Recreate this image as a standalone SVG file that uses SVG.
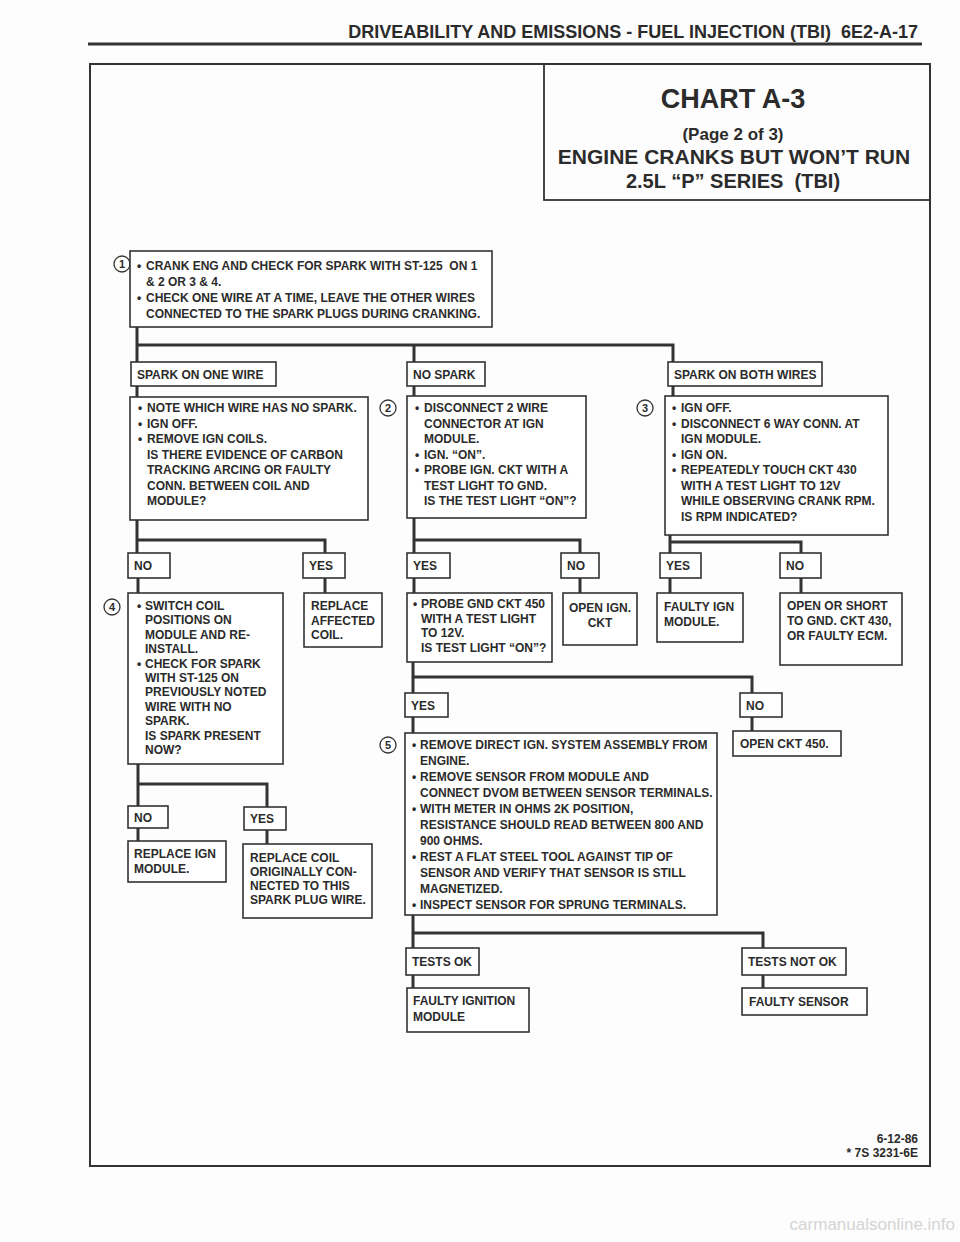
<svg xmlns="http://www.w3.org/2000/svg" width="960" height="1242" viewBox="0 0 960 1242">
<style>
.t{font-family:"Liberation Sans",Arial,sans-serif;font-weight:bold;font-size:12px;fill:#2b2b2b;white-space:pre}
.box{fill:#fff;stroke:#333;stroke-width:1.6}
.conn{stroke:#333;stroke-width:3;fill:none}
.num circle{fill:#fff;stroke:#333;stroke-width:1.3}
.num text{font-family:"Liberation Sans",Arial,sans-serif;font-weight:bold;font-size:11px;fill:#2b2b2b;text-anchor:middle}
.c{text-anchor:middle}
</style>
<rect x="0" y="0" width="960" height="1242" fill="#fdfdfd"/>
<g id="header">
<text class="t" x="918" y="38" style="font-size:18px" text-anchor="end">DRIVEABILITY AND EMISSIONS - FUEL INJECTION (TBI)  6E2-A-17</text>
<line x1="88" y1="44" x2="922" y2="44" stroke="#333" stroke-width="3"/>
</g>
<rect id="frame" x="90" y="64" width="840" height="1102" fill="none" stroke="#333" stroke-width="2"/>
<g id="title">
<rect x="544" y="64" width="386" height="136" fill="none" stroke="#333" stroke-width="1.8"/>
<text class="t c" x="733" y="108" style="font-size:27px">CHART A-3</text>
<text class="t c" x="733" y="140" style="font-size:17px">(Page 2 of 3)</text>
<text class="t c" x="734" y="164" style="font-size:21px">ENGINE CRANKS BUT WON’T RUN</text>
<text class="t c" x="733" y="188" style="font-size:20px">2.5L “P” SERIES  (TBI)</text>
</g>
<g id="connectors">
<path class="conn" d="M137 327V362M137 345H673V362M414 345V362"/>
<path class="conn" d="M137 386V397M414 386V396M673 386V396"/>
<path class="conn" d="M137 520V553M137 540H325V553"/>
<path class="conn" d="M414 518V553M414 540H580V553"/>
<path class="conn" d="M670 535V553M670 542H801V553"/>
<path class="conn" d="M138 578V593M325 578V593M414 578V593M580 578V593M670 578V593M801 578V593"/>
<path class="conn" d="M413 662V693M413 677H752V693"/>
<path class="conn" d="M413 717V733M752 717V731"/>
<path class="conn" d="M138 764V806M138 784H267V807M138 828V841M267 830V844"/>
<path class="conn" d="M413 915V948M413 933H763V948M413 975V988M763 975V988"/>
</g>
<g id="n1">
<g class="num"><circle cx="122" cy="264" r="8"/><text x="122" y="268">1</text></g>
<rect class="box" x="130" y="251" width="362" height="76"/>
<text class="t"><tspan x="137" y="270">•</tspan><tspan x="146" y="270">CRANK ENG AND CHECK FOR SPARK WITH ST-125  ON 1</tspan><tspan x="146" y="286">&amp; 2 OR 3 &amp; 4.</tspan><tspan x="137" y="302">•</tspan><tspan x="146" y="302">CHECK ONE WIRE AT A TIME, LEAVE THE OTHER WIRES</tspan><tspan x="146" y="318">CONNECTED TO THE SPARK PLUGS DURING CRANKING.</tspan></text>
</g>
<g id="l_spark_one"><rect class="box" x="131" y="362" width="145" height="24"/><text class="t" x="137" y="379">SPARK ON ONE WIRE</text></g>
<g id="l_no_spark"><rect class="box" x="407" y="362" width="78" height="24"/><text class="t" x="413" y="379">NO SPARK</text></g>
<g id="l_spark_both"><rect class="box" x="668" y="362" width="154" height="24"/><text class="t" x="674" y="379">SPARK ON BOTH WIRES</text></g>
<g id="n_note">
<rect class="box" x="130" y="397" width="238" height="123"/>
<text class="t"><tspan x="138" y="412">•</tspan><tspan x="147" y="412">NOTE WHICH WIRE HAS NO SPARK.</tspan><tspan x="138" y="427.5">•</tspan><tspan x="147" y="427.5">IGN OFF.</tspan><tspan x="138" y="443">•</tspan><tspan x="147" y="443">REMOVE IGN COILS.</tspan><tspan x="147" y="458.5">IS THERE EVIDENCE OF CARBON</tspan><tspan x="147" y="474">TRACKING ARCING OR FAULTY</tspan><tspan x="147" y="489.5">CONN. BETWEEN COIL AND</tspan><tspan x="147" y="505">MODULE?</tspan></text>
</g>
<g id="n2">
<g class="num"><circle cx="388" cy="408" r="8"/><text x="388" y="412">2</text></g>
<rect class="box" x="407" y="396" width="179" height="122"/>
<text class="t"><tspan x="415" y="412">•</tspan><tspan x="424" y="412">DISCONNECT 2 WIRE</tspan><tspan x="424" y="427.5">CONNECTOR AT IGN</tspan><tspan x="424" y="443">MODULE.</tspan><tspan x="415" y="458.5">•</tspan><tspan x="424" y="458.5">IGN. “ON”.</tspan><tspan x="415" y="474">•</tspan><tspan x="424" y="474">PROBE IGN. CKT WITH A</tspan><tspan x="424" y="489.5">TEST LIGHT TO GND.</tspan><tspan x="424" y="505">IS THE TEST LIGHT “ON”?</tspan></text>
</g>
<g id="n3">
<g class="num"><circle cx="645" cy="408" r="8"/><text x="645" y="412">3</text></g>
<rect class="box" x="665" y="396" width="223" height="139"/>
<text class="t"><tspan x="672" y="412">•</tspan><tspan x="681" y="412">IGN OFF.</tspan><tspan x="672" y="427.5">•</tspan><tspan x="681" y="427.5">DISCONNECT 6 WAY CONN. AT</tspan><tspan x="681" y="443">IGN MODULE.</tspan><tspan x="672" y="458.5">•</tspan><tspan x="681" y="458.5">IGN ON.</tspan><tspan x="672" y="474">•</tspan><tspan x="681" y="474">REPEATEDLY TOUCH CKT 430</tspan><tspan x="681" y="489.5">WITH A TEST LIGHT TO 12V</tspan><tspan x="681" y="505">WHILE OBSERVING CRANK RPM.</tspan><tspan x="681" y="520.5">IS RPM INDICATED?</tspan></text>
</g>
<g id="l_no_a"><rect class="box" x="128" y="553" width="42" height="25"/><text class="t" x="134" y="570">NO</text></g>
<g id="l_yes_a"><rect class="box" x="303" y="553" width="42" height="25"/><text class="t" x="309" y="570">YES</text></g>
<g id="l_yes_b"><rect class="box" x="407" y="553" width="43" height="25"/><text class="t" x="413" y="570">YES</text></g>
<g id="l_no_b"><rect class="box" x="561" y="553" width="38" height="25"/><text class="t" x="567" y="570">NO</text></g>
<g id="l_yes_c"><rect class="box" x="660" y="553" width="41" height="25"/><text class="t" x="666" y="570">YES</text></g>
<g id="l_no_c"><rect class="box" x="780" y="553" width="41" height="25"/><text class="t" x="786" y="570">NO</text></g>
<g id="n4">
<g class="num"><circle cx="112" cy="607" r="8"/><text x="112" y="611">4</text></g>
<rect class="box" x="128" y="593" width="155" height="171"/>
<text class="t"><tspan x="137" y="610">•</tspan><tspan x="145" y="610">SWITCH COIL</tspan><tspan x="145" y="624.4">POSITIONS ON</tspan><tspan x="145" y="638.8">MODULE AND RE-</tspan><tspan x="145" y="653.2">INSTALL.</tspan><tspan x="137" y="667.6">•</tspan><tspan x="145" y="667.6">CHECK FOR SPARK</tspan><tspan x="145" y="682">WITH ST-125 ON</tspan><tspan x="145" y="696.4">PREVIOUSLY NOTED</tspan><tspan x="145" y="710.8">WIRE WITH NO</tspan><tspan x="145" y="725.2">SPARK.</tspan><tspan x="145" y="739.6">IS SPARK PRESENT</tspan><tspan x="145" y="754">NOW?</tspan></text>
</g>
<g id="n_replace_affected">
<rect class="box" x="304" y="593" width="78" height="54"/>
<text class="t"><tspan x="311" y="610">REPLACE</tspan><tspan x="311" y="624.5">AFFECTED</tspan><tspan x="311" y="639">COIL.</tspan></text>
</g>
<g id="n_probe_gnd">
<rect class="box" x="407" y="593" width="145" height="69"/>
<text class="t"><tspan x="413" y="608">•</tspan><tspan x="421" y="608">PROBE GND CKT 450</tspan><tspan x="421" y="622.5">WITH A TEST LIGHT</tspan><tspan x="421" y="637">TO 12V.</tspan><tspan x="421" y="651.5">IS TEST LIGHT “ON”?</tspan></text>
</g>
<g id="n_open_ign">
<rect class="box" x="563" y="593" width="74" height="52"/>
<text class="t c"><tspan x="600" y="612">OPEN IGN.</tspan><tspan x="600" y="627">CKT</tspan></text>
</g>
<g id="n_faulty_ign">
<rect class="box" x="657" y="593" width="86" height="49"/>
<text class="t"><tspan x="664" y="611">FAULTY IGN</tspan><tspan x="664" y="626">MODULE.</tspan></text>
</g>
<g id="n_open_short">
<rect class="box" x="780" y="593" width="122" height="72"/>
<text class="t"><tspan x="787" y="610">OPEN OR SHORT</tspan><tspan x="787" y="625">TO GND. CKT 430,</tspan><tspan x="787" y="640">OR FAULTY ECM.</tspan></text>
</g>
<g id="l_yes_d"><rect class="box" x="405" y="693" width="43" height="24"/><text class="t" x="411" y="710">YES</text></g>
<g id="l_no_d"><rect class="box" x="740" y="693" width="42" height="24"/><text class="t" x="746" y="710">NO</text></g>
<g id="n5">
<g class="num"><circle cx="388" cy="745" r="8"/><text x="388" y="749">5</text></g>
<rect class="box" x="405" y="733" width="312" height="182"/>
<text class="t"><tspan x="412" y="749">•</tspan><tspan x="420" y="749">REMOVE DIRECT IGN. SYSTEM ASSEMBLY FROM</tspan><tspan x="420" y="765">ENGINE.</tspan><tspan x="412" y="781">•</tspan><tspan x="420" y="781">REMOVE SENSOR FROM MODULE AND</tspan><tspan x="420" y="797">CONNECT DVOM BETWEEN SENSOR TERMINALS.</tspan><tspan x="412" y="813">•</tspan><tspan x="420" y="813">WITH METER IN OHMS 2K POSITION,</tspan><tspan x="420" y="829">RESISTANCE SHOULD READ BETWEEN 800 AND</tspan><tspan x="420" y="845">900 OHMS.</tspan><tspan x="412" y="861">•</tspan><tspan x="420" y="861">REST A FLAT STEEL TOOL AGAINST TIP OF</tspan><tspan x="420" y="877">SENSOR AND VERIFY THAT SENSOR IS STILL</tspan><tspan x="420" y="893">MAGNETIZED.</tspan><tspan x="412" y="909">•</tspan><tspan x="420" y="909">INSPECT SENSOR FOR SPRUNG TERMINALS.</tspan></text>
</g>
<g id="n_open_450"><rect class="box" x="733" y="731" width="108" height="25"/><text class="t" x="740" y="748">OPEN CKT 450.</text></g>
<g id="l_no_e"><rect class="box" x="128" y="806" width="40" height="22"/><text class="t" x="134" y="822">NO</text></g>
<g id="l_yes_e"><rect class="box" x="244" y="807" width="42" height="23"/><text class="t" x="250" y="823">YES</text></g>
<g id="n_replace_ign">
<rect class="box" x="128" y="841" width="98" height="41"/>
<text class="t"><tspan x="134" y="858">REPLACE IGN</tspan><tspan x="134" y="873">MODULE.</tspan></text>
</g>
<g id="n_replace_coil">
<rect class="box" x="243" y="844" width="129" height="74"/>
<text class="t"><tspan x="250" y="862">REPLACE COIL</tspan><tspan x="250" y="876">ORIGINALLY CON-</tspan><tspan x="250" y="890">NECTED TO THIS</tspan><tspan x="250" y="904">SPARK PLUG WIRE.</tspan></text>
</g>
<g id="l_tests_ok"><rect class="box" x="406" y="948" width="73" height="27"/><text class="t" x="412" y="966">TESTS OK</text></g>
<g id="l_tests_not_ok"><rect class="box" x="742" y="948" width="104" height="27"/><text class="t" x="748" y="966">TESTS NOT OK</text></g>
<g id="n_faulty_ignition">
<rect class="box" x="407" y="988" width="122" height="44"/>
<text class="t"><tspan x="413" y="1005">FAULTY IGNITION</tspan><tspan x="413" y="1021">MODULE</tspan></text>
</g>
<g id="n_faulty_sensor"><rect class="box" x="742" y="988" width="125" height="27"/><text class="t" x="749" y="1006">FAULTY SENSOR</text></g>
<g id="footer">
<text class="t" x="918" y="1143" style="font-size:12px" text-anchor="end">6-12-86</text>
<text class="t" x="918" y="1157" style="font-size:12px" text-anchor="end">* 7S 3231-6E</text>
</g>
<text x="955" y="1230" font-family="Liberation Sans, Arial, sans-serif" font-size="17" fill="#d4d4d4" text-anchor="end">carmanualsonline.info</text>
</svg>
